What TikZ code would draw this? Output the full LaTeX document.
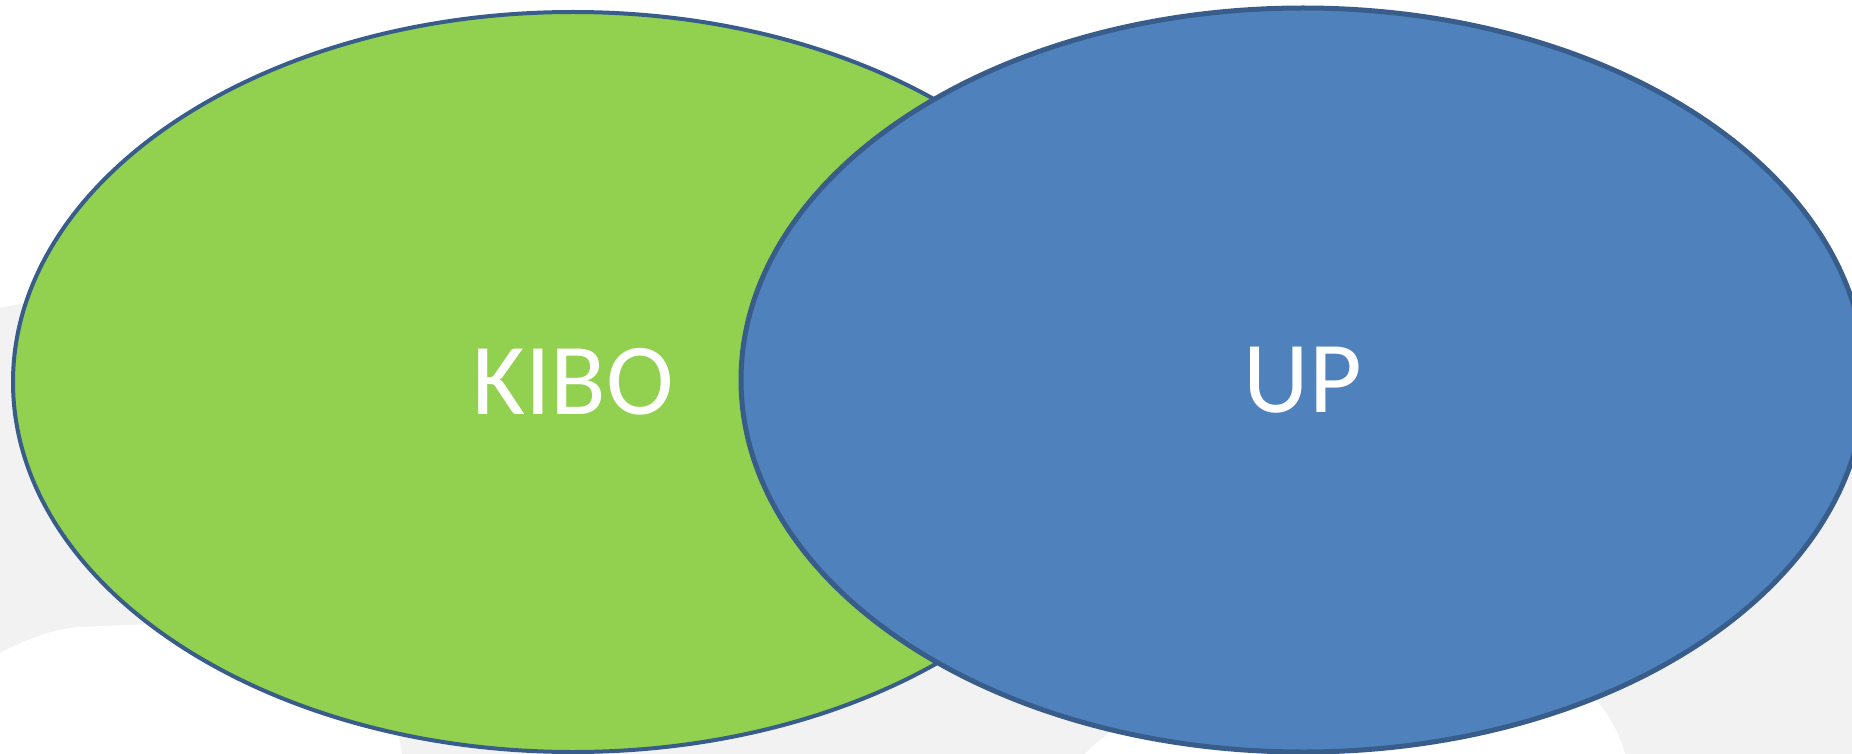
\documentclass[tikz,border=0pt]{standalone}
\usepackage{fontspec}
\setmainfont{Carlito}
\usetikzlibrary{shapes.geometric}
\definecolor{bggray}{HTML}{F2F2F2}
\definecolor{kibogreen}{HTML}{92D050}
\definecolor{upblue}{HTML}{4F81BD}
\definecolor{edgeblue}{HTML}{385D8A}
\tikzset{
  venn/.style={ellipse, inner sep=0pt, draw=edgeblue, text=white,
    font=\fontsize{102}{110}\selectfont},
}
\begin{document}
\begin{tikzpicture}[x=1pt,y=-1pt]
\useasboundingbox (0,0) rectangle (1852,754);
% faint background shape
\fill[bggray] (0,308) -- (40,300) -- (1852,380) -- (1852,754) -- (0,754) -- cycle;
\fill[white] (0,653) .. controls (25,640) and (50,630) .. (77,627)
  -- (150,624) -- (300,650) -- (396,720) -- (402,754) -- (0,754) -- cycle;
\fill[white] (1085,754) .. controls (1092,746) and (1100,740) .. (1107,735)
  -- (1120,715) -- (1300,700) -- (1570,690) -- (1596,700)
  .. controls (1610,716) and (1620,735) .. (1625,754) -- cycle;
% Venn ellipses
\node[venn, fill=kibogreen, line width=4pt, minimum width=1120pt, minimum height=740pt]
  (kibo) at (573,382) {\raisebox{-4pt}{KIBO}};
\node[venn, fill=upblue, line width=5pt, minimum width=1124pt, minimum height=744pt]
  (up) at (1303,380) {\raisebox{-3pt}{UP}};
\end{tikzpicture}
\end{document}
